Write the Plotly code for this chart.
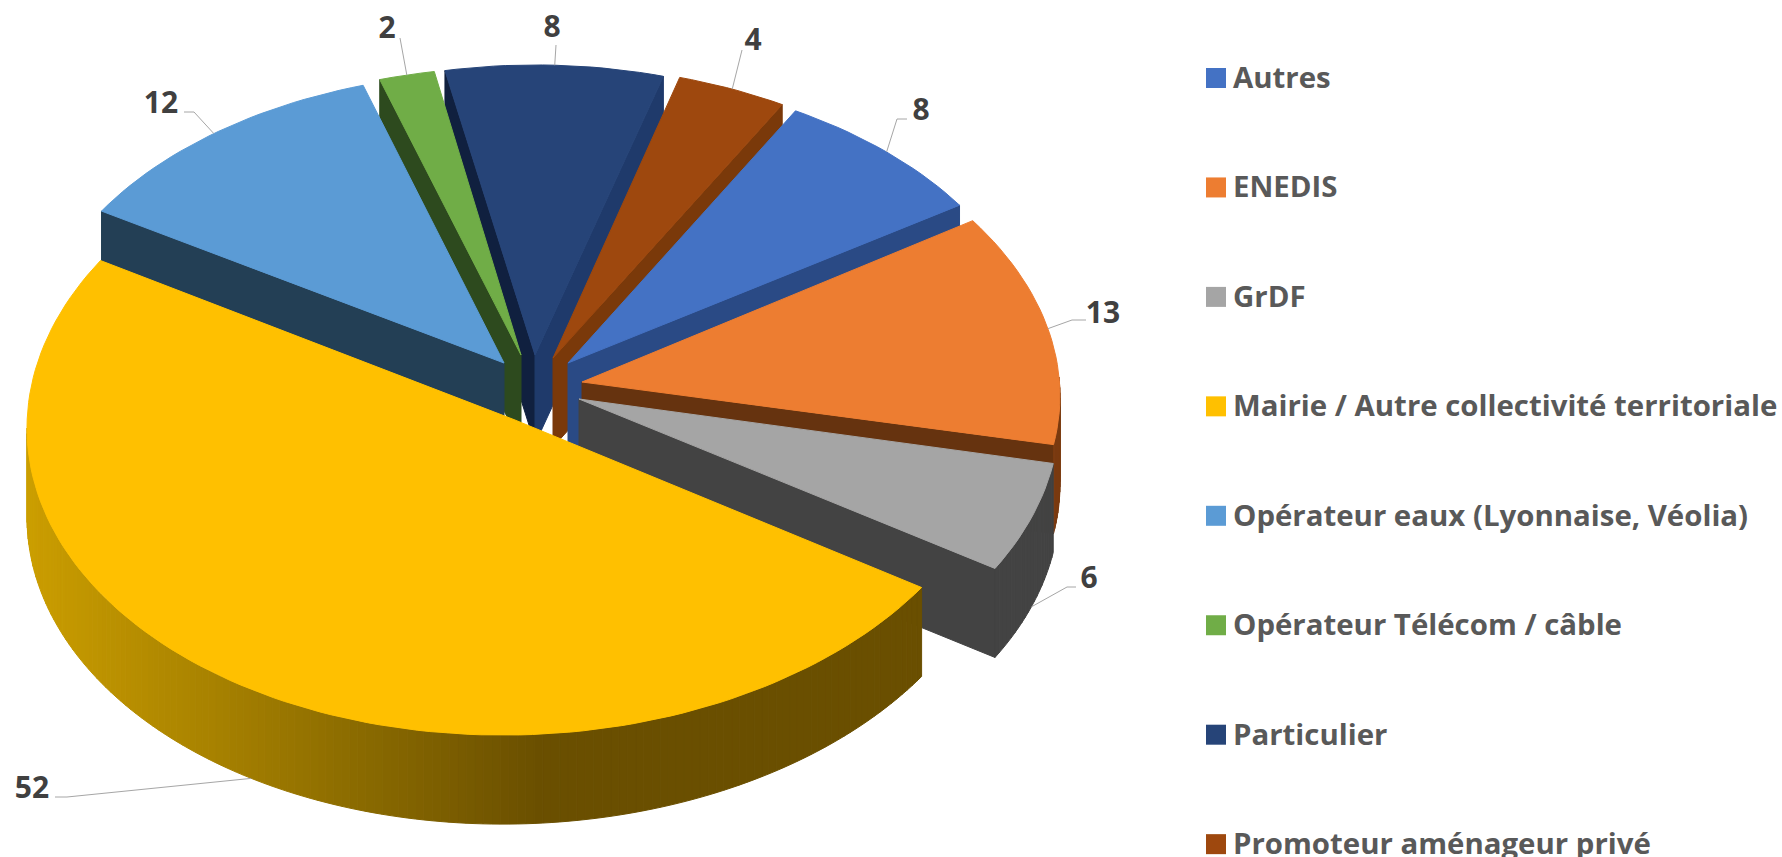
import math
import plotly.graph_objects as go

# ---------- data ----------
categories = ["Autres", "ENEDIS", "GrDF", "Mairie / Autre collectivité territoriale",
              "Opérateur eaux (Lyonnaise, Véolia)", "Opérateur Télécom / câble",
              "Particulier", "Promoteur aménageur privé"]
values = [8, 13, 6, 52, 12, 2, 8, 4]

# ---------- styles ----------
top_colors = ["#4472C4", "#ED7D31", "#A5A5A5", "#FFC000", "#5B9BD5", "#70AD47", "#264478", "#9E480E"]
face_colors = ["#2A4A85", "#66330F", "#434343", "#6A4F00", "#233F55", "#2D4A1E", "#10203F", "#7A390A"]
second_face = {6: "#1F3A6B"}
wall_colors = ["#2A4A85", "#7A3A10", "#434343", None, "#233F55", "#2D4A1E", "#1F3A6B", "#7A390A"]
# per-slice projection of the exploded 3D disc: apex x, apex y, A, S, K, T
proj = [
    (568, 363, 470, -17, 290, -7),
    (582, 382, 477, -30, 300, -5),
    (579, 399, 480, -29, 317, -7),
    (515, 420, 488, 0, 315, -8),
    (504, 363, 472, -3, 291, -2),
    (521, 355, 470, -4, 288, 0),
    (535, 355, 461, -9, 290, -6),
    (553, 358, 465, -12, 292, -6),
]
WALL = 89
START = 31.0
draw_order = [6, 7, 5, 0, 4, 1, 2, 3]
# label centre and elbow of each leader line
label_pos = [(921, 112), (1103, 315), (1089, 580), (32, 790), (161, 105), (387, 30), (552, 29), (753, 42)]
elbow_pos = [[(907, 119), (897, 119)], [(1086, 320), (1072, 320)], [(1076, 587), (1067, 587)],
             [(55, 797), (67, 797)], [(184, 112), (194, 112)], [(400, 38)], [(556, 45)], [(742, 50)]]
yellow_stops = [(27, (0xCB, 0x9E, 0x00)), (210, (0xA8, 0x82, 0x00)), (350, (0x8C, 0x6C, 0x00)),
                (540, (0x6A, 0x4F, 0x00)), (1000, (0x6A, 0x4F, 0x00))]
FONT = "Open Sans"
LABEL_SIZE = 30
KEY_SIZE = 29.4

total = sum(values)
spans = []
acc = START
for v in values:
    spans.append((acc, acc + v / total * 360))
    acc += v / total * 360


def rim(i, deg):
    cx, cy, A, S, K, T = proj[i]
    t = math.radians(deg)
    return (cx + A * math.sin(t) + S * math.cos(t), cy - K * math.cos(t) + T * math.sin(t))


def gold(x):
    for (x0, c0), (x1, c1) in zip(yellow_stops, yellow_stops[1:]):
        if x <= x1:
            f = max(0, (x - x0) / (x1 - x0))
            return "rgb(%d,%d,%d)" % tuple(round(c0[k] + (c1[k] - c0[k]) * f) for k in range(3))
    return "rgb(106,79,0)"


fig = go.Figure()


def poly(pts, color, group):
    xs = [p[0] for p in pts] + [pts[0][0]]
    ys = [p[1] for p in pts] + [pts[0][1]]
    fig.add_trace(go.Scatter(x=xs, y=ys, mode="lines", fill="toself", fillcolor=color,
                             line=dict(color=color, width=1), hoverinfo="skip",
                             showlegend=False, legendgroup=group))


for i in draw_order:
    a1, a2 = spans[i]
    apex = proj[i][:2]
    apex_b = (apex[0], apex[1] + WALL)
    name = categories[i]
    # radial cut faces turned towards the viewer
    if math.cos(math.radians(a1 - 90)) < 0:
        p = rim(i, a1)
        poly([apex, p, (p[0], p[1] + WALL), apex_b], face_colors[i], name)
    if math.cos(math.radians(a2 + 90)) < 0:
        p = rim(i, a2)
        poly([apex, p, (p[0], p[1] + WALL), apex_b], second_face.get(i, face_colors[i]), name)
    # outer wall, front half of the disc only
    lo, hi = max(a1, 90), min(a2, 270)
    if hi > lo:
        n = max(1, int((hi - lo) / 1.0))
        for k in range(n):
            d0 = lo + (hi - lo) * k / n
            d1 = lo + (hi - lo) * (k + 1) / n
            p0, p1 = rim(i, d0), rim(i, d1)
            col = wall_colors[i] or gold((p0[0] + p1[0]) / 2)
            poly([p0, p1, (p1[0], p1[1] + WALL), (p0[0], p0[1] + WALL)], col, name)
    # top face
    n = max(4, int((a2 - a1) / 1.5))
    arc = [rim(i, a1 + (a2 - a1) * k / n) for k in range(n + 1)]
    poly([apex] + arc, top_colors[i], name)

# leader lines and value labels
for i, v in enumerate(values):
    a1, a2 = spans[i]
    mid = (a1 + a2) / 2
    px, py = rim(i, mid)
    if 90 < (mid % 360) < 270:
        py += WALL
    pts = elbow_pos[i] + [(px, py)]
    fig.add_trace(go.Scatter(x=[p[0] for p in pts], y=[p[1] for p in pts], mode="lines",
                             line=dict(color="#A6A6A6", width=1), hoverinfo="skip", showlegend=False))
    fig.add_trace(go.Scatter(x=[label_pos[i][0]], y=[label_pos[i][1]], mode="text", text=[str(v)],
                             textposition="middle center", hoverinfo="skip", showlegend=False,
                             textfont=dict(family=FONT, size=LABEL_SIZE, color="#404040", weight="bold")))

# key
for i, c in enumerate(categories):
    yk = 78 + 109.45 * i
    fig.add_trace(go.Scatter(x=[1216], y=[yk], mode="markers", hoverinfo="skip", showlegend=False,
                             marker=dict(symbol="square", size=20, color=top_colors[i], line=dict(width=0))))
    fig.add_trace(go.Scatter(x=[1233], y=[yk + 2.5], mode="text", text=[c], textposition="middle right",
                             hoverinfo="skip", showlegend=False,
                             textfont=dict(family=FONT, size=KEY_SIZE, color="#595959", weight="bold")))

fig.update_layout(width=1782, height=857, margin=dict(l=0, r=0, t=0, b=0), autosize=False,
                  paper_bgcolor="white", plot_bgcolor="white", showlegend=False,
                  xaxis=dict(visible=False, range=[0, 1782], fixedrange=True),
                  yaxis=dict(visible=False, range=[857, 0], fixedrange=True))
fig.write_html("out.html", config=dict(displayModeBar=False),
               post_script="document.body.style.margin='0';document.body.style.overflow='hidden';")
